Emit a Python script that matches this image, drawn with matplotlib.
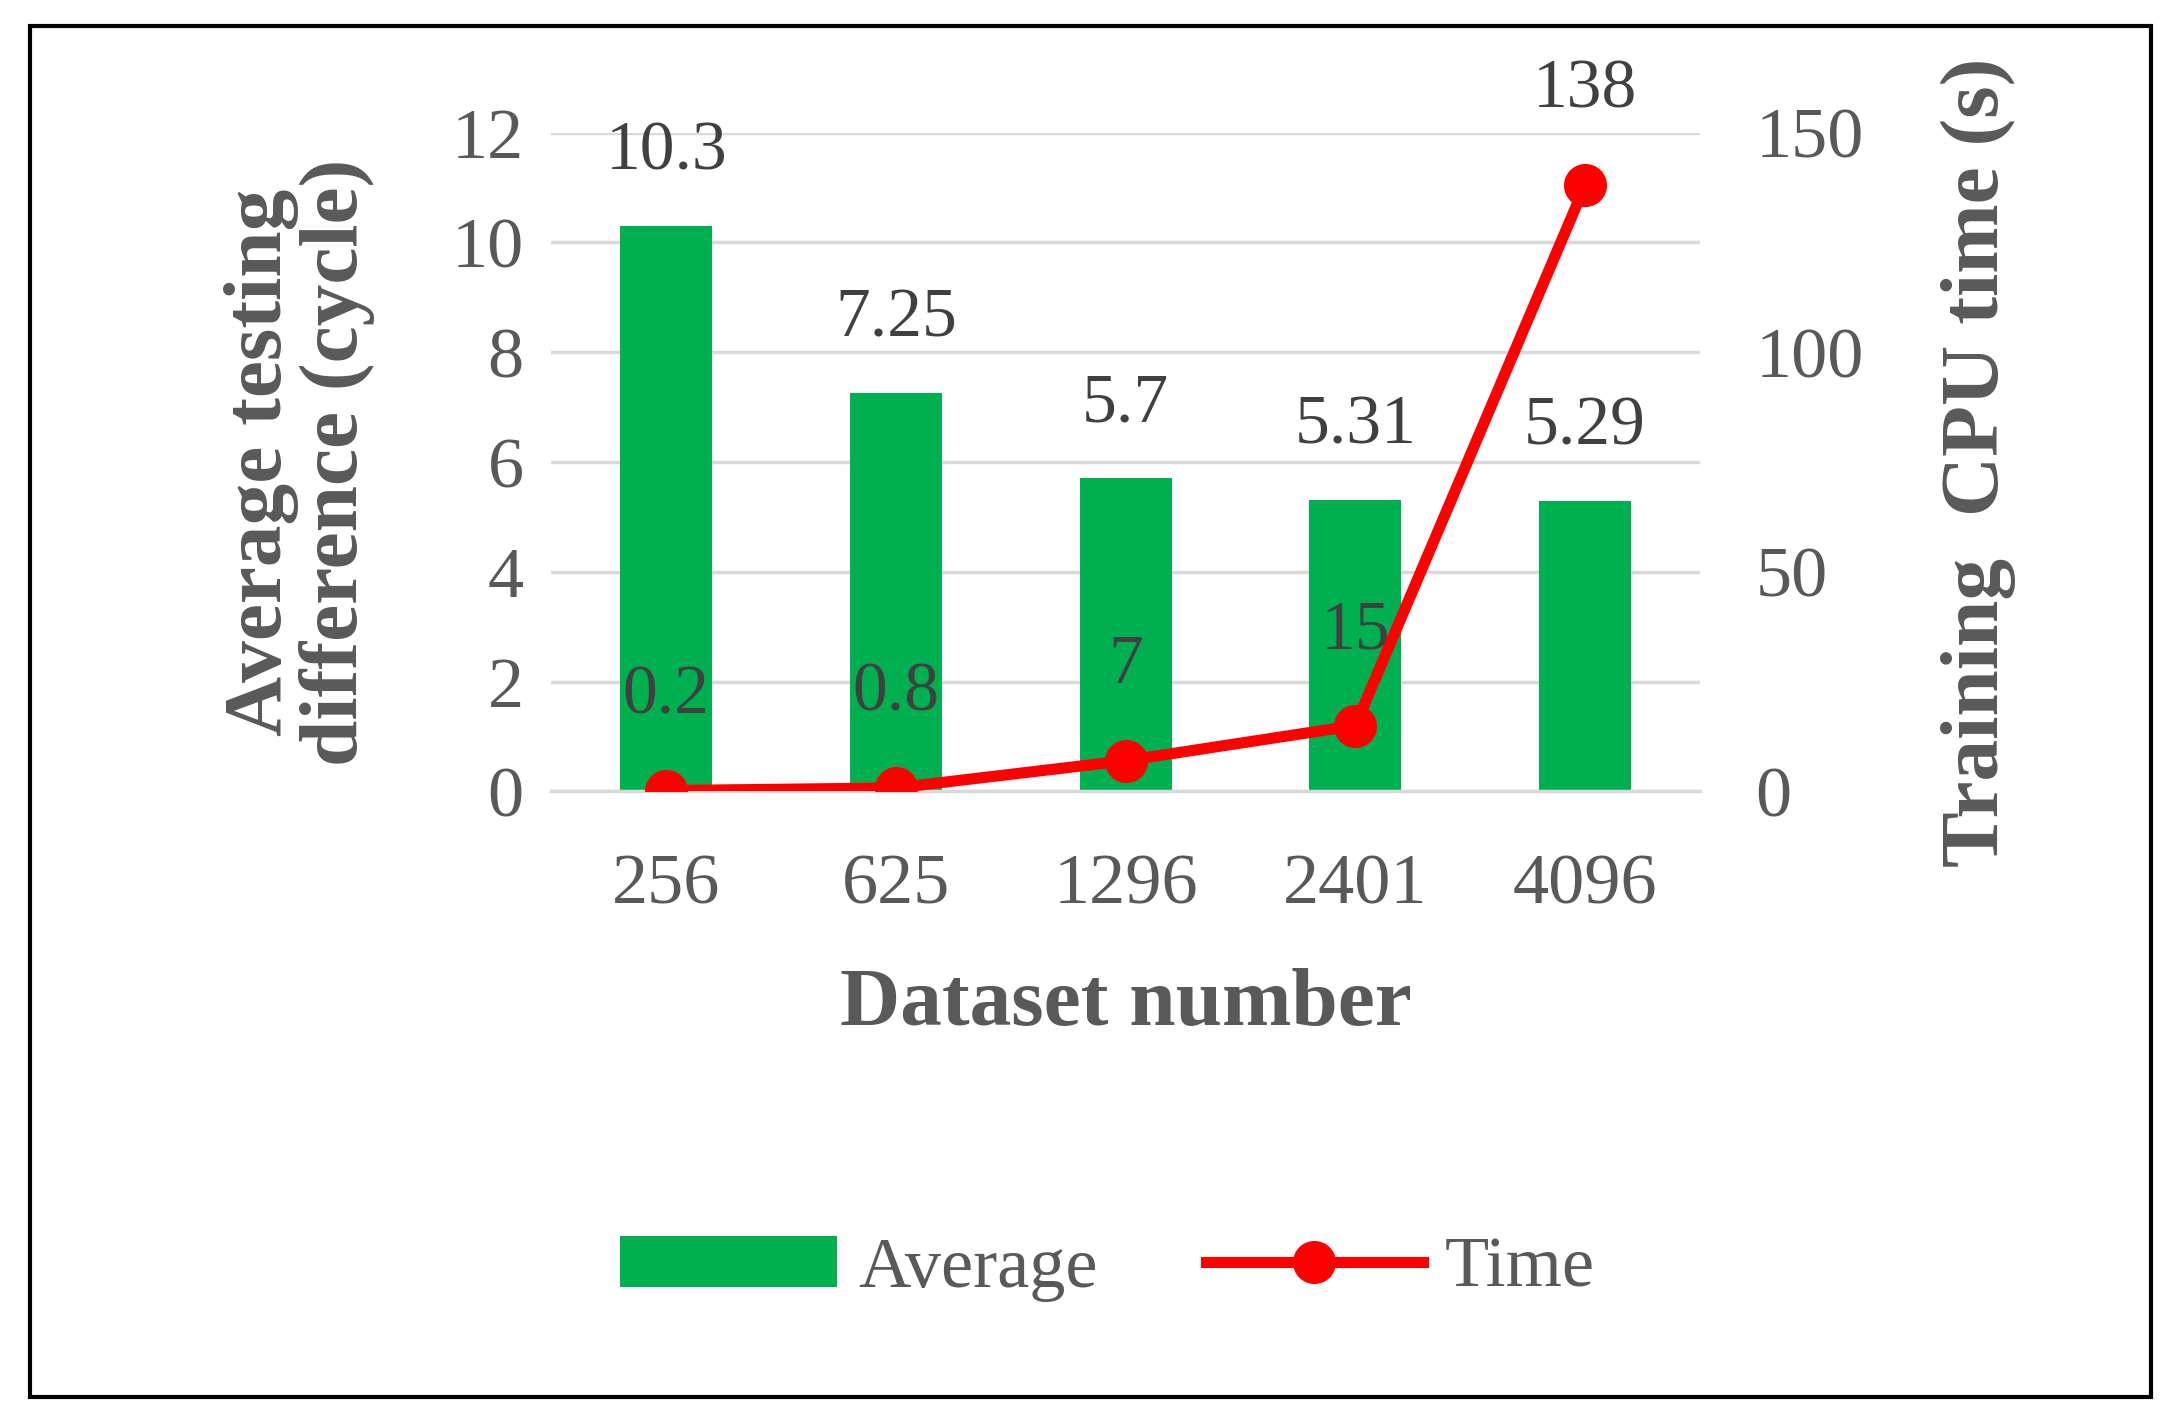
import matplotlib.pyplot as plt
from matplotlib.patches import Rectangle

plt.rcParams['font.family'] = ['Liberation Serif', 'DejaVu Serif']

datasets = ['256', '625', '1296', '2401', '4096']
average = [10.3, 7.25, 5.7, 5.31, 5.29]
cpu_time = [0.2, 0.8, 7, 15, 138]
time_labels = ['0.2', '0.8', '7', '15', '138']

grey = '#595959'
green = '#00B050'
red = '#FF0000'

fig = plt.figure(figsize=(21.71, 14.26), dpi=100)
fig.patches.append(Rectangle((0.014, 0.02), 0.977, 0.962, transform=fig.transFigure,
                             fill=False, edgecolor='black', linewidth=3))

ax = fig.add_axes([0.254, 0.445, 0.529, 0.462])
x = range(len(datasets))
ax.bar(x, average, width=0.4, color=green, label='Average', zorder=2)
for i, v in enumerate(average):
    ax.annotate(f'{v:g}', (i, v), xytext=(0, 30), textcoords='offset points',
                ha='center', va='bottom', fontsize=50, color='#404040')
ax.set_ylim(0, 12)
ax.set_xlim(-0.5, 4.5)
ax.set_yticks(range(0, 13, 2))
ax.set_xticks(list(x))
ax.set_xticklabels(datasets)
ax.yaxis.grid(True, color='#D9D9D9', linewidth=2.5, zorder=0)
ax.set_axisbelow(True)
for s in ax.spines.values():
    s.set_visible(False)
ax.spines['bottom'].set_visible(True)
ax.spines['bottom'].set_color('#D9D9D9')
ax.spines['bottom'].set_linewidth(2.5)
ax.tick_params(length=0, labelsize=52, labelcolor=grey, pad=20)
ax.tick_params(axis='x', pad=45)
ax.set_xlabel('Dataset number', fontsize=60, fontweight='bold', color=grey, labelpad=35)
ax.set_ylabel('Average testing\ndifference (cycle)', fontsize=60, fontweight='bold',
              color=grey, labelpad=55, linespacing=1.0)

ax2 = ax.twinx()
ax2.plot(list(x), cpu_time, color=red, linewidth=8, marker='o', markersize=30,
         label='Time', zorder=3)
for i, v in enumerate(cpu_time):
    ax2.annotate(time_labels[i], (i, v), xytext=(0, 45), textcoords='offset points',
                 ha='center', va='bottom', fontsize=50, color='#404040')
ax2.set_ylim(0, 150)
ax2.set_yticks(range(0, 151, 50))
for s in ax2.spines.values():
    s.set_visible(False)
ax2.tick_params(length=0, labelsize=52, labelcolor=grey, pad=40)
ax2.set_ylabel('Training  CPU time (s)', fontsize=60, fontweight='bold', color=grey,
               labelpad=55)

h1, l1 = ax.get_legend_handles_labels()
h2, l2 = ax2.get_legend_handles_labels()
fig.legend(h1 + h2, l1 + l2, loc='center', bbox_to_anchor=(0.51, 0.11), ncol=2,
           frameon=False, fontsize=52, labelcolor=grey, handlelength=3,
           columnspacing=1.5, handletextpad=0.3)

fig.savefig('out.png', dpi=100)
